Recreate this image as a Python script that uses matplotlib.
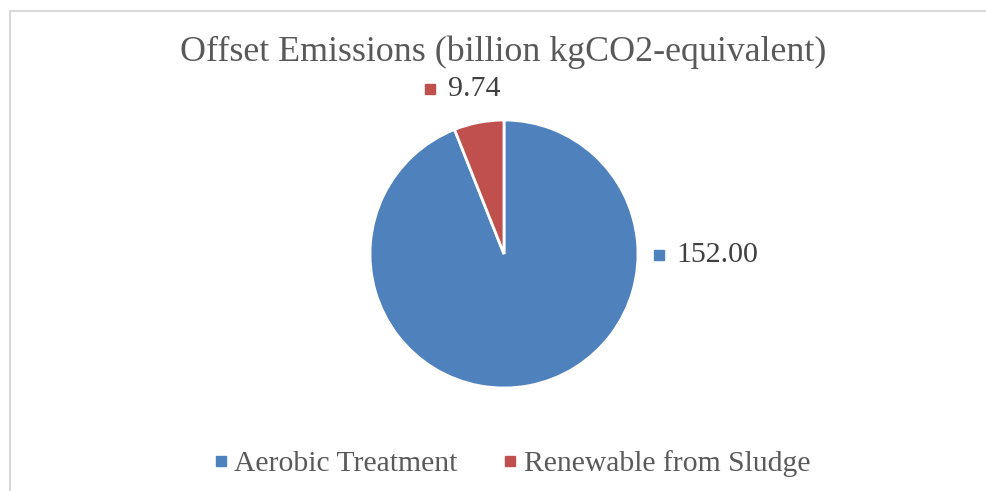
import matplotlib
matplotlib.use("Agg")
import matplotlib.pyplot as plt
from matplotlib.lines import Line2D
from matplotlib.patches import Rectangle

categories = ["Aerobic Treatment", "Renewable from Sludge"]
values = [152.00, 9.74]
value_labels = ["152.00", "9.74"]
colors = ["#4F81BD", "#C0504D"]
title = "Offset Emissions (billion kgCO2-equivalent)"

plt.rcParams['font.family'] = ['Liberation Serif', 'DejaVu Serif']

W, H = 986, 491
fig = plt.figure(figsize=(W / 100, H / 100), dpi=100)

# chart border
fig.patches.append(Rectangle((9.5 / W, -0.1), 1.2, 1.1 - 10.5 / H,
                             transform=fig.transFigure, fill=False,
                             edgecolor="#D9D9D9", lw=1.5))

cx, cy, r = 504, 254, 134
ax = fig.add_axes([(cx - r) / W, (H - cy - r) / H, 2 * r / W, 2 * r / H])
ax.pie(values, colors=colors, startangle=90, counterclock=False, radius=1,
       wedgeprops=dict(edgecolor="white", linewidth=2))
ax.set_xlim(-1, 1)
ax.set_ylim(-1, 1)
ax.set_aspect("auto")
ax.axis("off")

# data labels (layout positions in axes data units)
label_pos = {0: (1.16, -0.01), 1: (-0.55, 1.23)}
for i, (lx, ly) in label_pos.items():
    ax.plot([lx], [ly], marker="s", markersize=6.5, color=colors[i],
            clip_on=False, linestyle="none")
    ax.text(lx + 0.13, ly, value_labels[i], fontsize=21.5, color="#404040",
            va="center", ha="left", clip_on=False)

fig.text(503 / W, 1 - 52 / H, title, fontsize=25.8, color="#595959",
         ha="center", va="center")

handles = [Line2D([], [], marker="s", linestyle="none", markersize=6.5,
                  color=c) for c in colors]
fig.legend(handles, categories, loc="center", bbox_to_anchor=(511 / W, 1 - 464 / H),
           ncol=2, frameon=False, fontsize=21.3, handlelength=0.6,
           handletextpad=0.15, columnspacing=1.5, labelcolor="#595959",
           borderaxespad=0, borderpad=0)

fig.savefig("out.png", dpi=100)
